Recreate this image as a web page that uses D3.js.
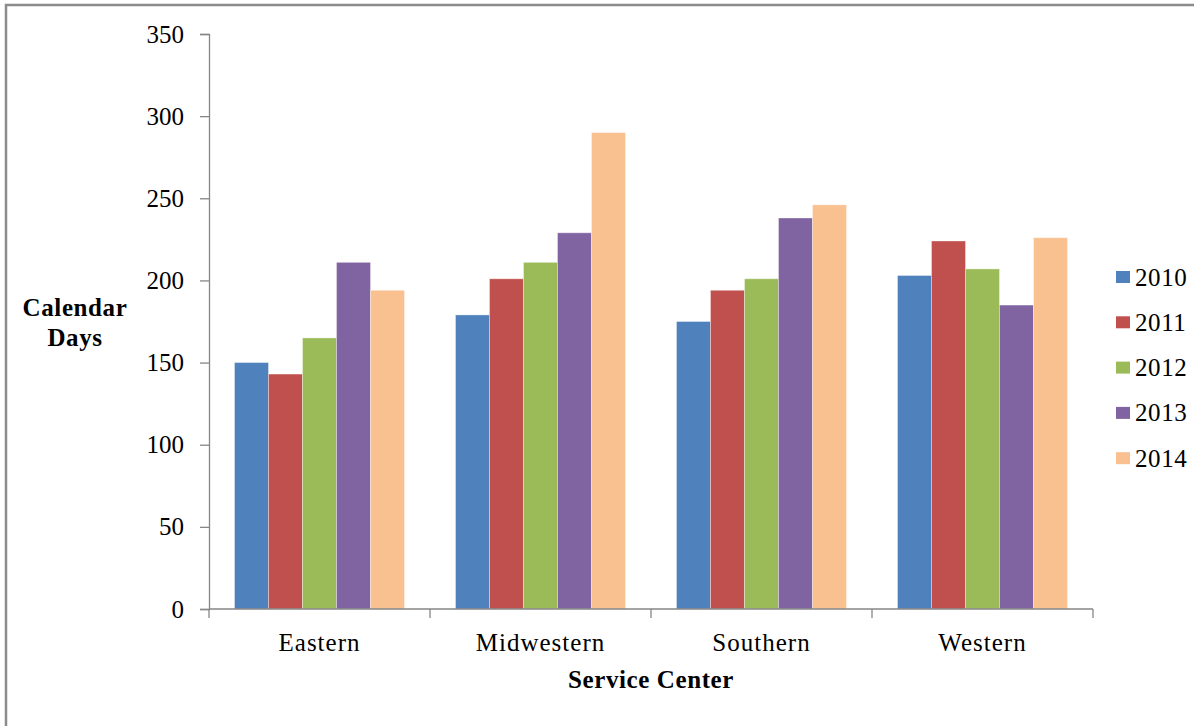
<!DOCTYPE html>
<html>
<head>
<meta charset="utf-8">
<script src="https://cdn.jsdelivr.net/npm/d3@7"></script>
<style>
  body { margin: 0; background: #fff; }
  text { font-family: "Liberation Serif", "Times New Roman", serif; fill: #000; }
</style>
</head>
<body>
<script>
const centers = ["Eastern", "Midwestern", "Southern", "Western"];
const years = ["2010", "2011", "2012", "2013", "2014"];
const colors = ["#4F81BD", "#C0504D", "#9BBB59", "#8064A2", "#F9C090"];

// calendar days per year, one value per service center
const days2010 = [150, 179, 175, 203];
const days2011 = [143, 201, 194, 224];
const days2012 = [165, 211, 201, 207];
const days2013 = [211, 229, 238, 185];
const days2014 = [194, 290, 246, 226];

const yTicks = [0, 50, 100, 150, 200, 250, 300, 350];

const series = [days2010, days2011, days2012, days2013, days2014];

const W = 1194, H = 726;
const margin = {top: 34, left: 209, right: 101, bottom: 117};
const width = W - margin.left - margin.right,
    height = H - margin.top - margin.bottom;

const svg = d3.select("body").append("svg")
    .attr("width", W)
    .attr("height", H);

// outer frame (only left and top edges visible)
svg.append("path")
    .attr("d", "M6,726 V5 H1194")
    .attr("fill", "none")
    .attr("stroke", "#8c8c8c")
    .attr("stroke-width", 2.5);

const g = svg.append("g")
    .attr("transform", "translate(" + margin.left + "," + margin.top + ")");

const x0 = d3.scaleBand().domain(centers).range([0, width]).paddingInner(0).paddingOuter(0);
const x1 = d3.scaleBand().domain(years).range([25.5, x0.bandwidth() - 25.5]);
const y = d3.scaleLinear().domain([0, 350]).range([height, 0]);

const rows = [];
centers.forEach((c, i) => {
  years.forEach((yr, j) => {
    rows.push({center: c, year: yr, value: series[j][i], color: colors[j]});
  });
});

g.selectAll("rect.bar")
  .data(rows)
  .enter().append("rect")
    .attr("class", "bar")
    .attr("x", d => x0(d.center) + x1(d.year))
    .attr("y", d => y(d.value))
    .attr("width", x1.bandwidth())
    .attr("height", d => height - y(d.value))
    .attr("fill", d => d.color)
    .attr("stroke", "rgba(255,255,255,0.35)")
    .attr("stroke-width", 1);

// y axis
const yAxis = g.append("g")
    .call(d3.axisLeft(y).tickValues(yTicks).tickSize(9).tickPadding(16));
yAxis.selectAll("path, line").attr("stroke", "#868686").attr("stroke-width", 1.3);
yAxis.selectAll("text")
    .style("font-family", "Liberation Serif")
    .style("font-size", "25px")
    .attr("fill", "#000");

// x axis: baseline with ticks at category boundaries
const xg = g.append("g").attr("transform", "translate(0," + height + ")");
xg.append("line")
    .attr("x1", 0).attr("x2", width)
    .attr("stroke", "#868686").attr("stroke-width", 1.3);
const bounds = centers.map(c => x0(c)).concat([width]);
xg.selectAll("line.tick")
  .data(bounds)
  .enter().append("line")
    .attr("class", "tick")
    .attr("x1", d => d).attr("x2", d => d)
    .attr("y1", 0).attr("y2", 9)
    .attr("stroke", "#868686").attr("stroke-width", 1.3);
xg.selectAll("text.cat")
  .data(centers)
  .enter().append("text")
    .attr("class", "cat")
    .attr("x", d => x0(d) + x0.bandwidth() / 2)
    .attr("y", 42)
    .attr("text-anchor", "middle")
    .style("font-size", "25px")
    .style("letter-spacing", "1px")
    .text(d => d);

// axis titles
svg.append("text")
    .attr("x", 651).attr("y", 688)
    .attr("text-anchor", "middle")
    .style("font-size", "25px")
    .style("font-weight", "bold")
    .style("letter-spacing", "0.6px")
    .text("Service Center");

const yTitle = svg.append("text")
    .attr("text-anchor", "middle")
    .style("font-size", "25px")
    .style("font-weight", "bold")
    .style("letter-spacing", "0.6px");
yTitle.append("tspan").attr("x", 75).attr("y", 316).text("Calendar");
yTitle.append("tspan").attr("x", 75).attr("y", 346).text("Days");

// legend
const legend = svg.append("g").attr("transform", "translate(1116,277)");
const item = legend.selectAll("g")
  .data(years)
  .enter().append("g")
    .attr("transform", (d, i) => "translate(0," + i * 45.3 + ")");
item.append("rect")
    .attr("x", 0).attr("y", -6)
    .attr("width", 14).attr("height", 12)
    .attr("fill", (d, i) => colors[i]);
item.append("text")
    .attr("x", 19).attr("y", 8.5)
    .style("font-size", "25px")
    .style("letter-spacing", "0.6px")
    .text(d => d);
</script>
</body>
</html>
